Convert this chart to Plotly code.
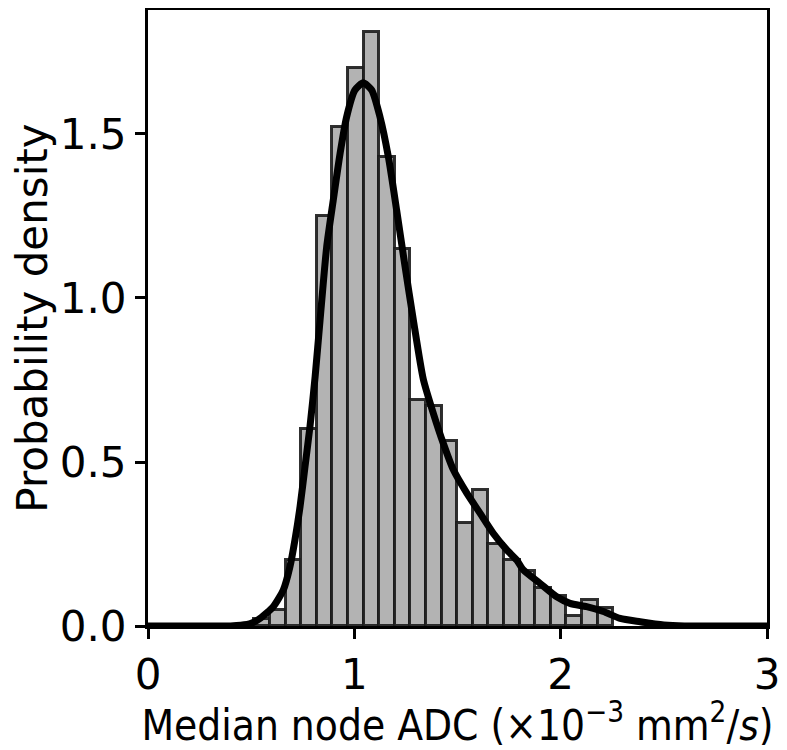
import plotly.graph_objects as go

# Histogram (density) data
bin_start = 0.516
bin_width = 0.0756
densities = [0.02, 0.05, 0.20, 0.60, 1.25, 1.52, 1.70, 1.81, 1.43, 1.15,
             0.69, 0.67, 0.565, 0.315, 0.415, 0.25, 0.20, 0.167, 0.115, 0.09,
             0.03, 0.078, 0.054]

# KDE curve
kde_x = [0.0, 0.2, 0.4, 0.45, 0.5, 0.543, 0.607, 0.656, 0.688, 0.712, 0.737, 0.761,
         0.785, 0.810, 0.834, 0.866, 0.898, 0.931, 0.963, 1.003, 1.043, 1.084,
         1.124, 1.165, 1.205, 1.246, 1.286, 1.334, 1.383, 1.431, 1.480, 1.545,
         1.609, 1.674, 1.739, 1.787, 1.819, 1.900, 1.981, 2.045, 2.126, 2.207,
         2.288, 2.385, 2.5, 2.6, 2.8, 3.0]
kde_y = [0.0, 0.0, 0.0, 0.002, 0.008, 0.023, 0.059, 0.110, 0.181, 0.262, 0.364, 0.486,
         0.608, 0.760, 0.933, 1.156, 1.299, 1.441, 1.553, 1.634, 1.656, 1.634,
         1.553, 1.430, 1.268, 1.095, 0.933, 0.753, 0.648, 0.557, 0.476, 0.405,
         0.344, 0.282, 0.232, 0.201, 0.171, 0.130, 0.089, 0.069, 0.059, 0.044,
         0.023, 0.013, 0.003, 0.0, 0.0, 0.0]

x_ticks = [0, 1, 2, 3]
y_ticks = [0.0, 0.5, 1.0, 1.5]

centers = [bin_start + bin_width * (i + 0.5) for i in range(len(densities))]

FONT = "DejaVu Sans"
FONT_C = "DejaVu Sans Condensed"
FS = 42

fig = go.Figure()
fig.add_trace(go.Bar(
    x=centers, y=densities, width=[bin_width] * len(densities),
    marker=dict(color="#b3b3b3", line=dict(color="rgba(25,25,25,0.9)", width=3)),
    showlegend=False,
))
fig.add_trace(go.Scatter(
    x=kde_x, y=kde_y, mode="lines",
    line=dict(color="black", width=7, shape="spline", smoothing=0.6),
    showlegend=False,
))

axis_common = dict(
    showline=True, linecolor="black", linewidth=3, mirror=True,
    ticks="outside", ticklen=10, tickwidth=3, tickcolor="black",
    showgrid=False, zeroline=False, automargin=False,
    tickfont=dict(family=FONT, size=FS, color="black"),
)

fig.update_layout(
    width=779, height=742,
    margin=dict(l=140, r=20, t=2, b=124),
    paper_bgcolor="white", plot_bgcolor="white",
    bargap=0,
    font=dict(family=FONT, color="black"),
    xaxis=dict(range=[0, 3], tickvals=x_ticks, ticktext=[str(v) for v in x_ticks],
               title=dict(text="Median node ADC (×10<sup>−3</sup> mm<sup>2</sup>/<i>s</i>)",
                          font=dict(family=FONT_C, size=FS, color="black"), standoff=4),
               **axis_common),
    yaxis=dict(range=[0, 1.878], tickvals=y_ticks, ticktext=[f"{v:.1f}" for v in y_ticks],
               title=dict(text="Probability density",
                          font=dict(family=FONT, size=FS, color="black"), standoff=24),
               **axis_common),
)

fig.write_html("out.html")
